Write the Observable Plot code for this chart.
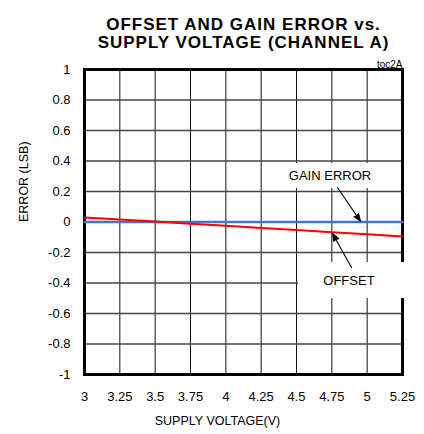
<!DOCTYPE html>
<html>
<head>
<meta charset="utf-8">
<script src="https://cdn.jsdelivr.net/npm/d3@7"></script>
<script src="https://cdn.jsdelivr.net/npm/@observablehq/plot@0.6"></script>
<style>
  html, body { margin: 0; padding: 0; background: #fff; }
</style>
</head>
<body>
<div id="chart"></div>
<script>
// ---- data ----
const voltage   = [3, 3.25, 3.5, 3.75, 4, 4.25, 4.5, 4.75, 5, 5.25];
const offset    = [0.03, 0.016, 0.003, -0.011, -0.025, -0.039, -0.053, -0.067, -0.081, -0.095];
const gainError = [0, 0, 0, 0, 0, 0, 0, 0, 0, 0];

const xTicks = [3, 3.25, 3.5, 3.75, 4, 4.25, 4.5, 4.75, 5, 5.25];
const xTickLabels = ["3", "3.25", "3.5", "3.75", "4", "4.25", "4.5", "4.75", "5", "5.25"];
const yTicks = [1, 0.8, 0.6, 0.4, 0.2, 0, -0.2, -0.4, -0.6, -0.8, -1];
const yTickLabels = ["1", "0.8", "0.6", "0.4", "0.2", "0", "-0.2", "-0.4", "-0.6", "-0.8", "-1"];

const titleLines = ["OFFSET AND GAIN ERROR vs.", "SUPPLY VOLTAGE (CHANNEL A)"];
const xLabel = "SUPPLY VOLTAGE(V)";
const yLabel = "ERROR (LSB)";
const figId = "toc2A";

// annotations (data units)
const annLabels = ["GAIN ERROR", "OFFSET"];
const annX = [4.737, 4.871];
const annY = [0.305, -0.384];
const boxX1 = [4.40, 4.514];
const boxX2 = [5.08, 5.29];
const boxY1 = [0.384, -0.266];
const boxY2 = [0.220, -0.502];
const arrX1 = [4.79, 4.89];
const arrY1 = [0.226, -0.300];
const arrX2 = [4.953, 4.755];
const arrY2 = [0.004, -0.075];

const series = voltage.map((v, i) => ({v, offset: offset[i], gain: gainError[i]}));
const boxes = annLabels.map((l, i) => ({x1: boxX1[i], x2: boxX2[i], y1: boxY1[i], y2: boxY2[i]}));
const labels = annLabels.map((l, i) => ({text: l, x: annX[i], y: annY[i]}));
const arrows = annLabels.map((l, i) => ({x1: arrX1[i], y1: arrY1[i], x2: arrX2[i], y2: arrY2[i]}));

const font = "'Liberation Sans', Arial, sans-serif";

const chart = Plot.plot({
  width: 424,
  height: 434,
  marginLeft: 84,
  marginRight: 22,
  marginTop: 69,
  marginBottom: 60,
  style: {fontFamily: font, fontSize: "13px", color: "#000", background: "#fff", overflow: "visible"},
  x: {domain: [3, 5.25]},
  y: {domain: [-1, 1]},
  marks: [
    Plot.ruleX(xTicks, {stroke: "#111", strokeWidth: 1}),
    Plot.ruleY(yTicks, {stroke: "#444", strokeWidth: 1.3}),
    Plot.frame({stroke: "#000", strokeWidth: 3}),
    Plot.rect(boxes, {x1: "x1", x2: "x2", y1: "y1", y2: "y2", fill: "#fff"}),
    Plot.lineY(series, {x: "v", y: "gain", stroke: "#4472c4", strokeWidth: 2.5}),
    Plot.lineY(series, {x: "v", y: "offset", stroke: "#ff0000", strokeWidth: 2}),
    Plot.arrow(arrows, {x1: "x1", y1: "y1", x2: "x2", y2: "y2", stroke: "#000", fill: "#000",
      strokeWidth: 1.1, headLength: 11, headAngle: 40, bend: 0}),
    Plot.text(labels, {x: "x", y: "y", text: "text", fontSize: 13}),
    Plot.axisX({ticks: xTicks, tickSize: 0, tickPadding: 17, fontSize: 13, tickFormat: (d) => xTickLabels[xTicks.indexOf(d)], label: null}),
    Plot.axisY({ticks: yTicks, tickSize: 0, tickPadding: 14, fontSize: 13, tickFormat: (d) => yTickLabels[yTicks.indexOf(d)], label: null}),
    Plot.text([titleLines[0]], {frameAnchor: "top", dy: -52, fontWeight: "bold", fontSize: 17}),
    Plot.text([titleLines[1]], {frameAnchor: "top", dy: -34, fontWeight: "bold", fontSize: 17}),
    Plot.text([figId], {frameAnchor: "top-right", dy: -9, textAnchor: "end", fontSize: 10}),
    Plot.text([xLabel], {frameAnchor: "bottom", dx: -26, dy: 50, fontSize: 12.5}),
    Plot.text([yLabel], {frameAnchor: "left", dx: -61, rotate: -90, fontSize: 12.5})
  ]
});
d3.select(chart).selectAll("text")
  .filter(function () { return titleLines.includes(this.textContent); })
  .attr("letter-spacing", "1px");
document.getElementById("chart").appendChild(chart);
</script>
</body>
</html>
